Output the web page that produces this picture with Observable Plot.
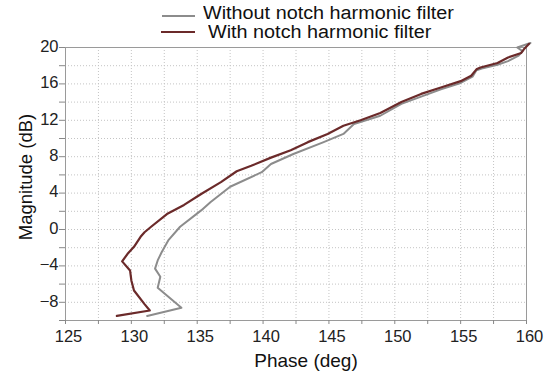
<!DOCTYPE html>
<html><head><meta charset="utf-8">
<script src="https://cdn.jsdelivr.net/npm/d3@7"></script>
<script src="https://cdn.jsdelivr.net/npm/@observablehq/plot@0.6"></script>
<style>
body{margin:0;background:#fff;font-family:"Liberation Sans",Arial,sans-serif;}
#wrap{position:relative;width:550px;height:376px;overflow:hidden;}
#chart{position:absolute;left:0;top:0;}
.lg{position:absolute;font-size:18px;line-height:18px;color:#111;white-space:nowrap;transform-origin:left center;transform:scaleX(1.1);}
.sw{position:absolute;height:0;}
</style></head><body>
<div id="wrap">
  <div id="chart"></div>
  <div class="sw" id="sw0" style="left:162px;top:15px;width:33px;"></div>
  <div class="lg" id="lg0" style="left:203px;top:4px;"></div>
  <div class="sw" id="sw1" style="left:161px;top:31px;width:34px;"></div>
  <div class="lg" id="lg1" style="left:208px;top:23px;"></div>
</div>
<script>
// Series: phase (deg) vs magnitude (dB), in frequency order
const withoutPhase = [131.2, 133.8, 132.0, 132.2, 131.8, 132.0, 132.3, 132.8, 133.7, 135.3, 136.0, 137.5, 139.9, 140.6, 142.3, 144.6, 146.1, 146.9, 148.9, 150.5, 152.0, 153.5, 155.0, 155.9, 156.2, 156.6, 157.8, 158.6, 159.4, 159.7, 159.3, 160.3];
const withoutMag   = [-9.5, -8.6, -6.4, -5.2, -4.3, -3.4, -2.5, -1.2, 0.3, 2.1, 3.0, 4.7, 6.3, 7.2, 8.3, 9.6, 10.5, 11.6, 12.5, 13.8, 14.6, 15.4, 16.1, 16.8, 17.5, 17.7, 18.1, 18.5, 19.1, 19.6, 20.0, 20.5];
const withPhase = [128.9, 131.4, 131.0, 130.2, 130.0, 129.9, 129.3, 129.7, 130.2, 130.7, 131.0, 131.5, 132.7, 134.0, 135.3, 136.8, 138.0, 139.1, 140.6, 142.1, 143.4, 144.9, 146.1, 147.4, 148.9, 150.5, 152.0, 153.5, 155.0, 155.8, 156.2, 156.5, 157.8, 158.6, 159.6, 159.8, 160.2];
const withMag   = [-9.5, -8.9, -8.2, -6.7, -5.6, -4.5, -3.5, -2.7, -1.9, -0.8, -0.3, 0.3, 1.7, 2.7, 3.9, 5.2, 6.4, 7.0, 7.9, 8.7, 9.6, 10.5, 11.4, 12.0, 12.8, 14.0, 14.9, 15.6, 16.3, 16.9, 17.6, 17.8, 18.3, 18.9, 19.4, 19.8, 20.4];
const seriesNames = ["Without notch harmonic filter", "With notch harmonic filter"];
const xTickValues = [125, 130, 135, 140, 145, 150, 155, 160];
const yTickValues = [-8, -4, 0, 4, 8, 12, 16, 20];
const xLabel = "Phase (deg)";
const yLabel = "Magnitude (dB)";

const colors = ["#8c8c8c", "#6b2a2a"];

const withoutData = withoutPhase.map((p, i) => ({p, m: withoutMag[i]}));
const withData = withPhase.map((p, i) => ({p, m: withMag[i]}));
const xMinor = d3.range(125, 160.01, 2.5);
const yMinor = d3.range(-10, 20.01, 2);

const chart = Plot.plot({
  width: 550, height: 376,
  marginLeft: 65, marginRight: 24, marginTop: 47, marginBottom: 56,
  style: {fontFamily: "'Liberation Sans', Arial, sans-serif", background: "#fff", color: "#222"},
  x: {domain: [125, 160], label: null},
  y: {domain: [-10, 20], label: null},
  marks: [
    Plot.gridX(xMinor, {stroke: "#c4c4c4", strokeOpacity: 1, strokeDasharray: "1,2"}),
    Plot.gridY(yMinor, {stroke: "#c4c4c4", strokeOpacity: 1, strokeDasharray: "1,2"}),
    Plot.frame({stroke: "#9a9a9a"}),
    Plot.axisX(xMinor, {tickSize: 4, tickFormat: () => "", stroke: "#888", label: null}),
    Plot.axisX(xTickValues, {tickSize: 0, tickPadding: 10, dx: 3, fontSize: 16.5, fill: "#222", label: null}),
    Plot.axisY(yMinor, {tickSize: 6, tickFormat: () => "", stroke: "#888", label: null}),
    Plot.axisY(yTickValues, {tickSize: 0, tickPadding: 7, dy: -1, fontSize: 16.5, fill: "#222", label: null}),
    Plot.text([xLabel], {text: d => d, frameAnchor: "bottom", textAnchor: "middle", lineAnchor: "middle", dx: 10, dy: 40, fontSize: 19, fill: "#111"}),
    Plot.text([yLabel], {text: d => d, frameAnchor: "left", textAnchor: "middle", lineAnchor: "middle", rotate: -90, dx: -39, dy: -7, fontSize: 18.5, fill: "#111"}),
    Plot.line(withoutData, {x: "p", y: "m", stroke: colors[0], strokeWidth: 2}),
    Plot.line(withData, {x: "p", y: "m", stroke: colors[1], strokeWidth: 2.2})
  ]
});
document.getElementById("chart").appendChild(chart);
document.getElementById("lg0").textContent = seriesNames[0];
document.getElementById("lg1").textContent = seriesNames[1];
document.getElementById("sw0").style.borderTop = "2px solid " + colors[0];
document.getElementById("sw1").style.borderTop = "2.5px solid " + colors[1];
</script>
</body></html>
